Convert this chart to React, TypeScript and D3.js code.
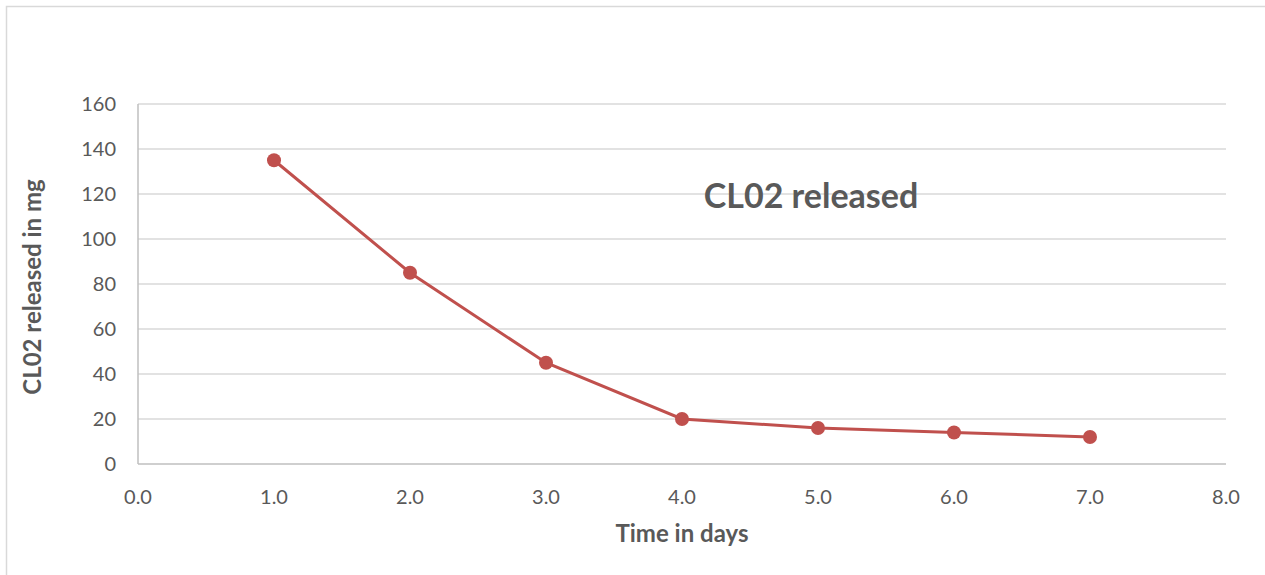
import React from "react";
import * as d3 from "d3";

const days = [1, 2, 3, 4, 5, 6, 7];
const released = [135, 85, 45, 20, 16, 14, 12];
const xTicks = [0, 1, 2, 3, 4, 5, 6, 7, 8];
const yTicks = [0, 20, 40, 60, 80, 100, 120, 140, 160];

const W = 1265;
const H = 575;
const FONT = "Lato, 'Open Sans', sans-serif";

export default function App() {
  const x = d3.scaleLinear().domain([0, 8]).range([138, 1226]);
  const y = d3.scaleLinear().domain([0, 160]).range([464, 104]);
  const pts = days.map((d, i) => [d, released[i]] as [number, number]);
  const line = d3
    .line<[number, number]>()
    .x((d) => x(d[0]))
    .y((d) => y(d[1]));

  return (
    <div style={{ position: "fixed", left: 0, top: 0, width: W, height: H, background: "#fff" }}>
      <svg width={W} height={H} style={{ display: "block", fontFamily: FONT }}>
        <rect x={6.5} y={6.5} width={W + 10} height={H + 10} fill="#fff" stroke="#d9d9d9" strokeWidth={1.5} />
        {yTicks.map((t) => (
          <g key={t}>
            {t > 0 && (
              <line x1={x(0)} x2={x(8)} y1={y(t)} y2={y(t)} stroke="#d9d9d9" strokeWidth={1.5} />
            )}
            <text x={116} y={y(t)} dy="0.35em" textAnchor="end" fontSize={20} fill="#595959">
              {t}
            </text>
          </g>
        ))}
        <line x1={x(0)} x2={x(8)} y1={y(0)} y2={y(0)} stroke="#bfbfbf" strokeWidth={1.5} />
        <line x1={x(0)} x2={x(0)} y1={y(0)} y2={y(160)} stroke="#bfbfbf" strokeWidth={1.5} />
        {xTicks.map((t) => (
          <text key={t} x={x(t)} y={497} dy="0.35em" textAnchor="middle" fontSize={20} fill="#595959">
            {t.toFixed(1)}
          </text>
        ))}
        <path d={line(pts) || ""} fill="none" stroke="#c0504d" strokeWidth={3} />
        {pts.map((p, i) => (
          <circle key={i} cx={x(p[0])} cy={y(p[1])} r={7} fill="#c0504d" />
        ))}
        <text x={811} y={196} dy="0.35em" textAnchor="middle" fontSize={34} fontWeight="bold" fill="#595959">
          CL02 released
        </text>
        <text x={682} y={534} dy="0.35em" textAnchor="middle" fontSize={24} fontWeight="bold" fill="#595959">
          Time in days
        </text>
        <text
          transform={`translate(33,${287}) rotate(-90)`}
          dy="0.35em"
          textAnchor="middle"
          fontSize={24}
          fontWeight="bold"
          fill="#595959"
        >
          CL02 released in mg
        </text>
      </svg>
    </div>
  );
}
